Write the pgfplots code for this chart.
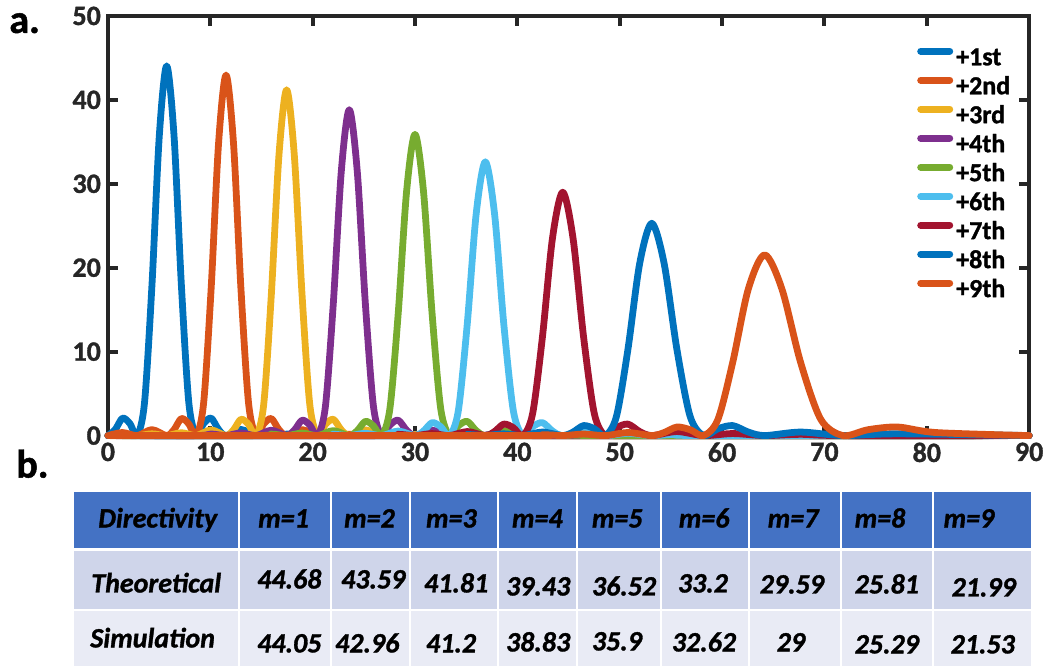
\documentclass[border=0pt]{standalone}
\usepackage{pgfplots}
\pgfplotsset{compat=1.18}
\usepackage{fontspec}
\setmainfont{Carlito}[BoldFeatures={FakeBold=1.2}, BoldItalicFeatures={FakeBold=1.2}]
\definecolor{c1}{HTML}{0072BD}
\definecolor{c2}{HTML}{D95319}
\definecolor{c3}{HTML}{EDB120}
\definecolor{c4}{HTML}{7E2F8E}
\definecolor{c5}{HTML}{77AC30}
\definecolor{c6}{HTML}{4DBEEE}
\definecolor{c7}{HTML}{A2142F}
\definecolor{axc}{HTML}{262626}
\definecolor{hdr}{HTML}{4472C4}
\definecolor{rowA}{HTML}{CFD5EA}
\definecolor{rowB}{HTML}{E9EBF5}
\begin{document}
\begin{tikzpicture}
\begin{scope}[x=0.5pt,y=-0.5pt]
\useasboundingbox (0,0) rectangle (1050,666);
\coordinate (O) at (108,435);
\end{scope}
\begin{axis}[at={(O)}, anchor=south west, scale only axis,
  width=461pt, height=210pt,
  xmin=0, xmax=90, ymin=0, ymax=50,
  xtick={0,10,...,90}, ytick={0,10,...,50},
  clip=false,
  axis line style={line width=2pt, color=axc},
  every tick/.style={line width=2pt, color=axc},
  major tick length=5pt, tick align=inside,
  tick label style={font=\fontsize{14}{14}\selectfont\bfseries, color=axc},
  /pgf/number format/assume math mode=true,
  legend style={draw=none, fill=none, inner sep=0pt, outer sep=0pt,
    at={(0.8785,0.930)}, anchor=north west,
    font=\fontsize{13}{13}\selectfont\bfseries,
    nodes={inner sep=0pt, text height=10pt, text depth=4.5pt},
    /tikz/every odd column/.append style={column sep=1.5pt}},
  legend cell align=left,
  legend image code/.code={\draw[line width=3.5pt] (0pt,4.3pt) -- (14.5pt,4.3pt);},
  every axis plot/.append style={line width=3.4pt, smooth, line cap=round, line join=round}
]
\addplot[c1] coordinates {(0,0) (0.72,0.73) (1.43,2.08) (2.15,1.43) (2.87,0) (3.58,3.97) (4.30,17.85) (5.02,35.71) (5.74,44.05) (6.46,35.71) (7.18,17.85) (7.90,3.97) (8.63,0) (9.35,1.43) (10.08,2.08) (10.81,0.73) (11.54,0) (13.00,0.73) (14.48,0) (15.96,0.37) (17.46,0) (18.97,0.22) (20.49,0) (90,0)};
\addplot[c2] coordinates {(0,0) (1.43,0.36) (2.87,0) (4.30,0.71) (5.74,0) (6.46,0.71) (7.18,2.03) (7.90,1.39) (8.63,0) (9.35,3.87) (10.08,17.41) (10.81,34.82) (11.54,42.96) (12.27,34.82) (13.00,17.41) (13.74,3.87) (14.48,0) (15.22,1.39) (15.96,2.03) (16.71,0.71) (17.46,0) (18.97,0.71) (20.49,0) (22.02,0.36) (23.58,0) (25.15,0.21) (26.74,0) (90,0)};
\addplot[c3] coordinates {(0,0) (2.87,0) (4.30,0.21) (5.74,0) (7.18,0.34) (8.63,0) (10.08,0.68) (11.54,0) (12.27,0.68) (13.00,1.94) (13.74,1.33) (14.48,0) (15.22,3.71) (15.96,16.70) (16.71,33.40) (17.46,41.2) (18.21,33.40) (18.97,16.70) (19.72,3.71) (20.49,0) (21.25,1.33) (22.02,1.94) (22.80,0.68) (23.58,0) (25.15,0.68) (26.74,0) (28.36,0.34) (30.00,0) (31.67,0.21) (33.37,0) (90,0)};
\addplot[c4] coordinates {(0,0) (8.63,0) (10.08,0.19) (11.54,0) (13.00,0.32) (14.48,0) (15.96,0.64) (17.46,0) (18.21,0.64) (18.97,1.83) (19.72,1.26) (20.49,0) (21.25,3.50) (22.02,15.74) (22.80,31.48) (23.58,38.83) (24.36,31.48) (25.15,15.74) (25.94,3.50) (26.74,0) (27.55,1.26) (28.36,1.83) (29.18,0.64) (30.00,0) (31.67,0.64) (33.37,0) (35.10,0.32) (36.87,0) (38.68,0.19) (40.54,0) (90,0)};
\addplot[c5] coordinates {(0,0) (14.48,0) (15.96,0.18) (17.46,0) (18.97,0.30) (20.49,0) (22.02,0.59) (23.58,0) (24.36,0.59) (25.15,1.69) (25.94,1.16) (26.74,0) (27.55,3.23) (28.36,14.55) (29.18,29.10) (30.00,35.9) (30.83,29.10) (31.67,14.55) (32.51,3.23) (33.37,0) (34.23,1.16) (35.10,1.69) (35.98,0.59) (36.87,0) (38.68,0.59) (40.54,0) (42.45,0.30) (44.43,0) (46.47,0.18) (48.59,0) (90,0)};
\addplot[c6] coordinates {(0,0) (20.49,0) (22.02,0.16) (23.58,0) (25.15,0.27) (26.74,0) (28.36,0.54) (30.00,0) (30.83,0.54) (31.67,1.54) (32.51,1.06) (33.37,0) (34.23,2.94) (35.10,13.22) (35.98,26.44) (36.87,32.62) (37.77,26.44) (38.68,13.22) (39.61,2.94) (40.54,0) (41.49,1.06) (42.45,1.54) (43.43,0.54) (44.43,0) (46.47,0.54) (48.59,0) (50.80,0.27) (53.13,0) (55.59,0.16) (58.21,0) (90,0)};
\addplot[c7] coordinates {(0,0) (26.74,0) (28.36,0.15) (30.00,0) (31.67,0.24) (33.37,0) (35.10,0.48) (36.87,0) (37.77,0.48) (38.68,1.37) (39.61,0.94) (40.54,0) (41.49,2.61) (42.45,11.75) (43.43,23.51) (44.43,29) (45.44,23.51) (46.47,11.75) (47.52,2.61) (48.59,0) (49.68,0.94) (50.80,1.37) (51.95,0.48) (53.13,0) (55.59,0.48) (58.21,0) (61.04,0.24) (64.16,0) (67.67,0.15) (71.81,0) (90,0)};
\addplot[c1] coordinates {(0,0) (33.37,0) (35.10,0.13) (36.87,0) (38.68,0.21) (40.54,0) (42.45,0.42) (44.43,0) (45.44,0.42) (46.47,1.19) (47.52,0.82) (48.59,0) (49.68,2.28) (50.80,10.25) (51.95,20.50) (53.13,25.29) (54.34,20.50) (55.59,10.25) (56.88,2.28) (58.21,0) (59.60,0.82) (61.04,1.19) (62.56,0.42) (64.16,0) (67.67,0.42) (71.81,0) (77.16,0.21) (90,0)};
\addplot[c2] coordinates {(0,0) (40.54,0) (42.45,0.11) (44.43,0) (46.47,0.18) (48.59,0) (50.80,0.36) (53.13,0) (54.34,0.36) (55.59,1.02) (56.88,0.70) (58.21,0) (59.60,1.94) (61.04,8.73) (62.56,17.45) (64.16,21.53) (65.85,17.45) (67.67,8.73) (69.64,1.94) (71.81,0) (74.26,0.70) (77.16,1.02) (80.93,0.36) (90,0)};
\legend{+1st,+2nd,+3rd,+4th,+5th,+6th,+7th,+8th,+9th}
\end{axis}
\begin{scope}[x=0.5pt,y=-0.5pt]
\node[anchor=base west, inner sep=0pt, font=\fontsize{20}{20}\selectfont\bfseries] at (9,32) {a.};
\node[anchor=base west, inner sep=0pt, font=\fontsize{20}{20}\selectfont\bfseries] at (16,477) {b.};
\fill[hdr] (74,491) rectangle (1032,549);
\fill[rowA] (74,549) rectangle (1032,610);
\fill[rowB] (74,610) rectangle (1032,666);
\draw[white, line width=1.5pt] (74,549.5) -- (1032,549.5);
\draw[white, line width=1pt] (74,610) -- (1032,610);
\foreach \xx in {239,331,410,498,577,662,750,842,934} {\draw[white, line width=1pt] (\xx,491) -- (\xx,666);}
\begin{scope}[every node/.style={anchor=base west, inner sep=0pt, font=\fontsize{14}{14}\selectfont\bfseries\itshape}]
\node at (98,527) {Directivity};
\node at (258,527) {m=1};
\node at (344,527) {m=2};
\node at (426,527) {m=3};
\node at (512,527) {m=4};
\node at (592,527) {m=5};
\node at (679,527) {m=6};
\node at (768,527) {m=7};
\node at (855,527) {m=8};
\node at (944,527) {m=9};
\node at (91,592) {Theoretical};
\node at (257,588) {44.68};
\node at (341,588) {43.59};
\node at (424,592) {41.81};
\node at (506,595) {39.43};
\node at (592,595) {36.52};
\node at (678,592) {33.2};
\node at (760,593) {29.59};
\node at (855,593) {25.81};
\node at (952,596) {21.99};
\node at (90,647) {Simulation};
\node at (257,652) {44.05};
\node at (335,652) {42.96};
\node at (426,652) {41.2};
\node at (506,651) {38.83};
\node at (592,650) {35.9};
\node at (672,651) {32.62};
\node at (777,651) {29};
\node at (855,653) {25.29};
\node at (951,653) {21.53};
\end{scope}
\end{scope}
\end{tikzpicture}
\end{document}
